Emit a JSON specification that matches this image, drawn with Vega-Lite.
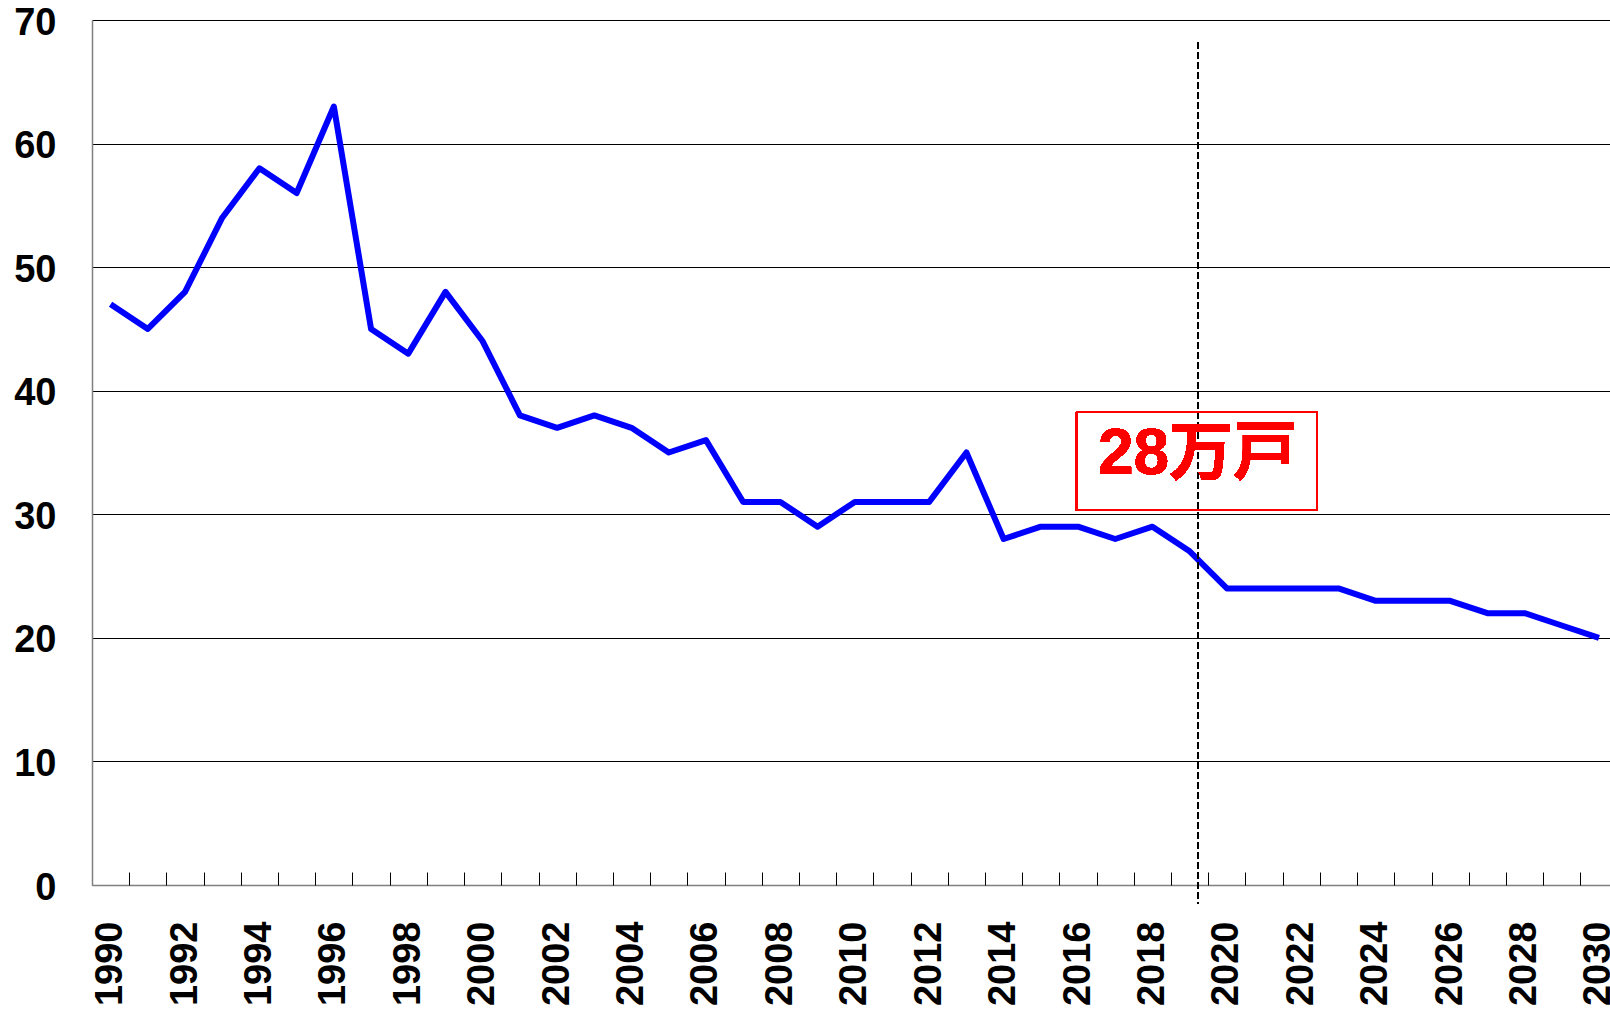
{
  "$schema": "https://vega.github.io/schema/vega-lite/v6.json",
  "width": 1518,
  "height": 865,
  "autosize": {"type": "none"},
  "padding": {"left": 92, "top": 20, "right": 0, "bottom": 127},
  "background": "white",
  "config": {
    "view": {"stroke": null},
    "axis": {"labelFont": "Liberation Sans", "labelFontWeight": "bold", "labelFontSize": 38, "labelColor": "#000", "title": null}
  },
  "data": {"values": [
    {"year": 1990, "value": 47}, {"year": 1991, "value": 45}, {"year": 1992, "value": 48},
    {"year": 1993, "value": 54}, {"year": 1994, "value": 58}, {"year": 1995, "value": 56},
    {"year": 1996, "value": 63}, {"year": 1997, "value": 45}, {"year": 1998, "value": 43},
    {"year": 1999, "value": 48}, {"year": 2000, "value": 44}, {"year": 2001, "value": 38},
    {"year": 2002, "value": 37}, {"year": 2003, "value": 38}, {"year": 2004, "value": 37},
    {"year": 2005, "value": 35}, {"year": 2006, "value": 36}, {"year": 2007, "value": 31},
    {"year": 2008, "value": 31}, {"year": 2009, "value": 29}, {"year": 2010, "value": 31},
    {"year": 2011, "value": 31}, {"year": 2012, "value": 31}, {"year": 2013, "value": 35},
    {"year": 2014, "value": 28}, {"year": 2015, "value": 29}, {"year": 2016, "value": 29},
    {"year": 2017, "value": 28}, {"year": 2018, "value": 29}, {"year": 2019, "value": 27},
    {"year": 2020, "value": 24}, {"year": 2021, "value": 24}, {"year": 2022, "value": 24},
    {"year": 2023, "value": 24}, {"year": 2024, "value": 23}, {"year": 2025, "value": 23},
    {"year": 2026, "value": 23}, {"year": 2027, "value": 22}, {"year": 2028, "value": 22},
    {"year": 2029, "value": 21}, {"year": 2030, "value": 20}
  ]},
  "layer": [
    {
      "mark": {"type": "line", "color": "#0000FF", "strokeWidth": 6, "strokeJoin": "round"},
      "encoding": {
        "x": {
          "field": "year", "type": "quantitative",
          "scale": {"domain": [1989.5, 2030.296], "nice": false, "zero": false},
          "axis": {
            "orient": "bottom",
            "values": [1990, 1992, 1994, 1996, 1998, 2000, 2002, 2004, 2006, 2008, 2010, 2012, 2014, 2016, 2018, 2020, 2022, 2024, 2026, 2028, 2030],
            "format": "d", "labelAngle": -90, "ticks": false, "grid": false,
            "domainColor": "#808080", "domainWidth": 1.5, "labelPadding": 36,
            "labelFlush": false, "labelOverlap": false, "labelBound": false
          }
        },
        "y": {
          "field": "value", "type": "quantitative",
          "scale": {"domain": [0, 70], "nice": false},
          "axis": {
            "values": [0, 10, 20, 30, 40, 50, 60, 70],
            "ticks": false, "grid": true, "gridColor": "#000", "gridWidth": 1,
            "domainColor": "#808080", "domainWidth": 1.5, "labelPadding": 36, "labelOffset": 3,
            "labelFlush": false, "labelOverlap": false
          }
        }
      }
    },
    {
      "mark": {"type": "rule", "strokeDash": [6, 4], "color": "#000", "strokeWidth": 1.5},
      "encoding": {
        "x": {
          "datum": 2019.23, "type": "quantitative",
          "axis": {
            "orient": "bottom",
            "values": [1990.5, 1991.5, 1992.5, 1993.5, 1994.5, 1995.5, 1996.5, 1997.5, 1998.5, 1999.5, 2000.5, 2001.5, 2002.5, 2003.5, 2004.5, 2005.5, 2006.5, 2007.5, 2008.5, 2009.5, 2010.5, 2011.5, 2012.5, 2013.5, 2014.5, 2015.5, 2016.5, 2017.5, 2018.5, 2019.5, 2020.5, 2021.5, 2022.5, 2023.5, 2024.5, 2025.5, 2026.5, 2027.5, 2028.5, 2029.5],
            "labels": false, "ticks": true, "tickSize": -13, "tickColor": "#000", "tickWidth": 1,
            "domain": false, "grid": false
          }
        },
        "y": {"datum": 68.2, "type": "quantitative"},
        "y2": {"datum": -1.5}
      }
    },
    {
      "mark": {"type": "rect", "filled": false, "stroke": "#FF0000", "strokeWidth": 1.3},
      "encoding": {
        "x": {"datum": 2015.96, "type": "quantitative", "axis": null},
        "x2": {"datum": 2022.43},
        "y": {"datum": 38.24, "type": "quantitative"},
        "y2": {"datum": 30.31}
      }
    },
    {
      "mark": {"type": "text", "text": "28万戸", "font": "Liberation Sans, Noto Sans CJK JP", "fontWeight": "bold", "fontSize": 64, "color": "#FF0000", "align": "center", "baseline": "middle"},
      "encoding": {
        "x": {"datum": 2019.21, "type": "quantitative", "axis": null},
        "y": {"datum": 34.78, "type": "quantitative"}
      }
    }
  ],
  "resolve": {"axis": {"x": "independent"}}
}
